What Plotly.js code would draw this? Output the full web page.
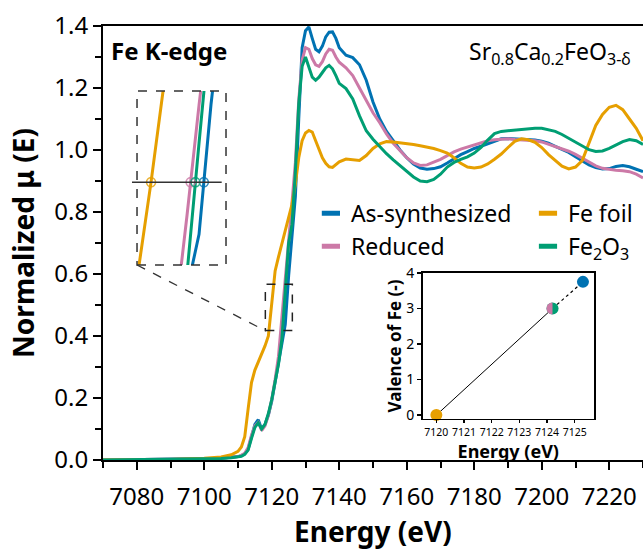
<!DOCTYPE html>
<html>
<head>
<meta charset="utf-8">
<script src="https://cdn.plot.ly/plotly-3.0.1.min.js"></script>
<style>
  html, body { margin: 0; padding: 0; overflow: hidden; background: #fff; }
  #chart { width: 643px; height: 550px; }
</style>
</head>
<body>
<div id="chart"></div>
<script>
// ---------------- data ----------------
const energy = [7070, 7080, 7090, 7100, 7105, 7108, 7110,
  7111, 7112, 7113, 7114, 7115, 7116, 7117, 7118, 7119, 7120, 7121, 7122, 7123, 7124, 7125, 7126, 7127, 7128, 7129, 7130,
  7131, 7132, 7133, 7134, 7135, 7136, 7137, 7138, 7139, 7140,
  7142, 7144, 7146, 7148, 7150, 7152, 7154, 7156, 7158, 7160, 7162, 7164, 7166, 7168, 7170, 7172, 7174, 7176, 7178, 7180,
  7182, 7184, 7186, 7188, 7190, 7192, 7194, 7196, 7198, 7200, 7202, 7204, 7206, 7208, 7210, 7212, 7214, 7216, 7218, 7220,
  7222, 7224, 7226, 7228, 7230];

const asSynthesized = [0.000, 0.001, 0.002, 0.004, 0.006, 0.008, 0.011,
  0.014, 0.020, 0.035, 0.075, 0.115, 0.130, 0.100, 0.115, 0.145, 0.190, 0.250, 0.310, 0.370, 0.437, 0.594, 0.720, 0.850, 1.100, 1.330, 1.385,
  1.397, 1.360, 1.325, 1.317, 1.335, 1.365, 1.380, 1.381, 1.360, 1.330,
  1.306, 1.298, 1.275, 1.225, 1.155, 1.100, 1.060, 1.030, 1.000, 0.975, 0.955, 0.942, 0.938, 0.940, 0.946, 0.958, 0.972, 0.985, 0.995, 1.005,
  1.012, 1.020, 1.030, 1.036, 1.037, 1.036, 1.036, 1.035, 1.032, 1.028, 1.022, 1.012, 1.002, 0.992, 0.978, 0.964, 0.952, 0.943, 0.939, 0.940,
  0.947, 0.950, 0.946, 0.938, 0.930];

const reduced = [0.000, 0.001, 0.002, 0.004, 0.006, 0.008, 0.011,
  0.015, 0.022, 0.040, 0.080, 0.110, 0.122, 0.095, 0.110, 0.145, 0.195, 0.260, 0.335, 0.460, 0.593, 0.715, 0.830, 0.960, 1.160, 1.290, 1.330,
  1.325, 1.295, 1.275, 1.270, 1.285, 1.310, 1.325, 1.322, 1.300, 1.283,
  1.265, 1.240, 1.200, 1.160, 1.120, 1.088, 1.052, 1.022, 0.997, 0.975, 0.958, 0.950, 0.952, 0.960, 0.970, 0.982, 0.994, 1.003, 1.010, 1.017,
  1.025, 1.030, 1.033, 1.035, 1.036, 1.034, 1.033, 1.032, 1.030, 1.026, 1.019, 1.012, 1.004, 0.996, 0.986, 0.973, 0.960, 0.949, 0.941, 0.937,
  0.935, 0.933, 0.930, 0.922, 0.910];

const feFoil = [0.000, 0.001, 0.002, 0.006, 0.010, 0.017, 0.028,
  0.042, 0.075, 0.165, 0.250, 0.290, 0.315, 0.340, 0.368, 0.400, 0.500, 0.610, 0.655, 0.700, 0.745, 0.785, 0.825, 0.890, 0.975, 1.030, 1.055,
  1.063, 1.058, 1.030, 1.000, 0.975, 0.957, 0.946, 0.944, 0.952, 0.962,
  0.971, 0.968, 0.966, 0.982, 1.005, 1.020, 1.027, 1.026, 1.024, 1.022, 1.018, 1.014, 1.010, 1.005, 0.998, 0.990, 0.975, 0.957, 0.945, 0.942,
  0.945, 0.955, 0.970, 0.987, 1.008, 1.028, 1.036, 1.033, 1.025, 1.008, 0.985, 0.965, 0.948, 0.939, 0.945, 0.966, 1.020, 1.079, 1.115, 1.138,
  1.144, 1.130, 1.100, 1.070, 1.030];

const fe2o3 = [0.000, 0.001, 0.002, 0.003, 0.005, 0.007, 0.009,
  0.012, 0.018, 0.032, 0.070, 0.105, 0.120, 0.100, 0.115, 0.150, 0.195, 0.250, 0.310, 0.390, 0.547, 0.700, 0.760, 0.930, 1.150, 1.270, 1.300,
  1.270, 1.235, 1.225, 1.235, 1.250, 1.265, 1.273, 1.262, 1.240, 1.215,
  1.198, 1.165, 1.110, 1.062, 1.035, 1.010, 0.988, 0.968, 0.950, 0.932, 0.913, 0.900, 0.898, 0.905, 0.922, 0.945, 0.960, 0.970, 0.978, 0.990,
  1.008, 1.032, 1.053, 1.060, 1.062, 1.064, 1.067, 1.069, 1.070, 1.070, 1.066, 1.060, 1.050, 1.038, 1.025, 1.012, 1.001, 0.995, 0.997, 1.005,
  1.015, 1.027, 1.034, 1.030, 1.018];

// half-edge crossing energies shown in the magnified panel
const halfLevel = 0.5;
const halfEdgeNames = ['As-synthesized', 'Reduced', 'Fe foil', 'Fe2O3'];
const halfEdgeEnergy = [7124.4, 7123.3, 7120.0, 7123.7];

// valence vs edge energy inset
const valNames = ['Fe foil', 'Fe2O3', 'Reduced', 'As-synthesized'];
const valEnergy = [7120.0, 7124.2, 7124.2, 7125.3];
const valence = [0, 3, 3, 3.75];

// tick labels
const mainXTicks = [7080, 7100, 7120, 7140, 7160, 7180, 7200, 7220];
const mainYTicks = [0.0, 0.2, 0.4, 0.6, 0.8, 1.0, 1.2, 1.4];
const valXTicks = [7120, 7121, 7122, 7123, 7124, 7125];
const valYTicks = [0, 1, 2, 3, 4];

// ---------------- styling ----------------
const C = { blue: '#0072B2', pink: '#CC79A7', orange: '#E69F00', green: '#009E73' };
const FONT = 'Noto Sans, Open Sans, sans-serif';

const seriesList = [
  { name: 'As-synthesized', y: asSynthesized, color: C.blue, legend: 'legend' },
  { name: 'Reduced', y: reduced, color: C.pink, legend: 'legend' },
  { name: 'Fe foil', y: feFoil, color: C.orange, legend: 'legend2' },
  { name: 'Fe<sub>2</sub>O<sub>3</sub>', y: fe2o3, color: C.green, legend: 'legend2' }
];

const traces = [];
// main spectra
seriesList.forEach(s => traces.push({
  type: 'scatter', mode: 'lines', x: energy, y: s.y, xaxis: 'x', yaxis: 'y',
  line: { color: s.color, width: 3 }, showlegend: false, hoverinfo: 'skip'
}));
// magnified panel
seriesList.forEach(s => traces.push({
  type: 'scatter', mode: 'lines', x: energy, y: s.y, xaxis: 'x2', yaxis: 'y2',
  line: { color: s.color, width: 3 }, showlegend: false, hoverinfo: 'skip'
}));
const halfColors = [C.blue, C.pink, C.orange, C.green];
traces.push({
  type: 'scatter', mode: 'markers', x: halfEdgeEnergy, y: halfEdgeEnergy.map(() => halfLevel),
  xaxis: 'x2', yaxis: 'y2', showlegend: false, hoverinfo: 'skip', opacity: 0.8,
  marker: { symbol: 'circle-open', size: 9, line: { width: 1.6, color: halfColors }, color: halfColors }
});
// legend entries (short thick line samples)
seriesList.forEach(s => traces.push({
  type: 'scatter', mode: 'markers', x: [null], y: [null], xaxis: 'x', yaxis: 'y',
  name: s.name, legend: s.legend, showlegend: true,
  marker: { symbol: 'line-ew', size: 13, color: s.color, line: { width: 5, color: s.color } }
}));
// valence inset
traces.push({
  type: 'scatter', mode: 'lines', x: [valEnergy[0], valEnergy[1]], y: [valence[0], valence[1]],
  xaxis: 'x3', yaxis: 'y3', line: { color: '#000', width: 1 }, showlegend: false, hoverinfo: 'skip'
});
traces.push({
  type: 'scatter', mode: 'lines', x: [valEnergy[1], valEnergy[3]], y: [valence[1], valence[3]],
  xaxis: 'x3', yaxis: 'y3', line: { color: '#000', width: 1.2, dash: 'dot' }, showlegend: false, hoverinfo: 'skip'
});
traces.push({
  type: 'scatter', mode: 'markers', x: [valEnergy[0], valEnergy[1], valEnergy[3]], y: [valence[0], valence[1], valence[3]],
  xaxis: 'x3', yaxis: 'y3', cliponaxis: false, showlegend: false, hoverinfo: 'skip',
  marker: { size: 12, color: [C.orange, C.green, C.blue], line: { width: 0 } }
});

// ---------------- geometry ----------------
const zoomXDomain = [0.063, 0.2278], zoomYDomain = [0.4493, 0.8502];
const zoomXRange = [7118.83, 7126.25], zoomYRange = [0.40, 0.61];
const halfLineY = zoomYDomain[0] + (halfLevel - zoomYRange[0]) / (zoomYRange[1] - zoomYRange[0]) * (zoomYDomain[1] - zoomYDomain[0]);

const r = 6;
const halfPts = [];
for (let i = 1; i <= 12; i++) {
  const ang = -Math.PI / 2 - i * Math.PI / 12;
  halfPts.push((r * Math.cos(ang)).toFixed(2) + ',' + (r * Math.sin(ang)).toFixed(2));
}
const halfPath = 'M0,' + (-r) + ' L' + halfPts.join(' L') + ' Z';

const axisCommon = {
  showline: true, linecolor: '#000', linewidth: 2, ticks: 'outside', tickcolor: '#000',
  tickwidth: 2, zeroline: false, showgrid: false
};

const layout = {
  width: 643, height: 550,
  margin: { l: 103, r: 0, t: 26, b: 90 },
  paper_bgcolor: '#fff', plot_bgcolor: 'rgba(0,0,0,0)',
  font: { family: FONT, color: '#000' },
  xaxis: Object.assign({}, axisCommon, {
    domain: [0, 1], range: [7070, 7230], tickvals: mainXTicks, ticklen: 8, mirror: true,
    tickfont: { size: 24 }, ticklabelstandoff: 6,
    minor: { dtick: 10, tick0: 7070, ticks: 'outside', ticklen: 6, tickwidth: 2, tickcolor: '#000' }
  }),
  yaxis: Object.assign({}, axisCommon, {
    domain: [0, 1], range: [0, 1.4], tickvals: mainYTicks, tickformat: '.1f', ticklen: 8, mirror: false,
    tickfont: { size: 24 },
    minor: { dtick: 0.1, tick0: 0, ticks: 'outside', ticklen: 6, tickwidth: 2, tickcolor: '#000' },
    title: { text: 'Normalized μ (E)', font: { size: 28, weight: 'bold' }, standoff: 12 }
  }),
  xaxis2: { domain: zoomXDomain, range: zoomXRange, visible: false, anchor: 'y2', fixedrange: true },
  yaxis2: { domain: zoomYDomain, range: zoomYRange, visible: false, anchor: 'x2', fixedrange: true },
  xaxis3: Object.assign({}, axisCommon, {
    domain: [0.5917, 0.9093], range: [7119.5, 7125.7], anchor: 'y3', mirror: true, linewidth: 1.5,
    tickwidth: 1.2, ticklen: 3, tickvals: valXTicks, tickfont: { size: 10.5 },
    title: { text: 'Energy (eV)', font: { size: 18, weight: 'bold' }, standoff: 0 }
  }),
  yaxis3: Object.assign({}, axisCommon, {
    domain: [0.0945, 0.4309], range: [-0.11, 4.0], anchor: 'x3', mirror: true, linewidth: 1.5,
    tickwidth: 1.2, ticklen: 4, tickvals: valYTicks, tickfont: { size: 14 },
    title: { text: 'Valence of Fe (-)', font: { size: 17, weight: 'bold' }, standoff: 0 }
  }),
  legend: {
    x: 0.385, y: 0.618, xanchor: 'left', yanchor: 'top', bgcolor: 'rgba(0,0,0,0)',
    font: { size: 23, family: FONT }, tracegroupgap: 0, itemclick: false
  },
  legend2: {
    x: 0.787, y: 0.618, xanchor: 'left', yanchor: 'top', bgcolor: 'rgba(0,0,0,0)',
    font: { size: 23, family: FONT }, tracegroupgap: 0, itemclick: false
  },
  annotations: [
    { xref: 'paper', yref: 'paper', x: 0.5, y: -0.1636, xanchor: 'center', yanchor: 'middle',
      text: 'Energy (eV)', showarrow: false, font: { size: 28, weight: 'bold' }, borderpad: 0 },
    { xref: 'paper', yref: 'paper', x: 0.0111, y: 0.9447, xanchor: 'left', yanchor: 'middle',
      text: 'Fe K-edge', showarrow: false, font: { size: 24, weight: 'bold' } },
    { xref: 'paper', yref: 'paper', x: 0.9815, y: 0.938, xanchor: 'right', yanchor: 'middle',
      text: 'Sr<sub>0.8</sub>Ca<sub>0.2</sub>FeO<sub>3-δ</sub>', showarrow: false, font: { size: 23 } }
  ],
  shapes: [
    { type: 'rect', xref: 'x2 domain', yref: 'y2 domain', x0: 0, x1: 1, y0: 0, y1: 1,
      line: { color: '#333', width: 1.5, dash: 'dash' }, fillcolor: 'rgba(0,0,0,0)' },
    { type: 'rect', xref: 'x', yref: 'y', x0: 7118.1, x1: 7126.1, y0: 0.418, y1: 0.567,
      line: { color: '#222', width: 1.5, dash: 'dash' }, fillcolor: 'rgba(0,0,0,0)' },
    { type: 'line', xref: 'paper', yref: 'paper', x0: zoomXDomain[0], y0: zoomYDomain[0], x1: 0.3019, y1: 0.2972,
      line: { color: '#333', width: 1.3, dash: 'dash' } },
    { type: 'line', xref: 'paper', yref: 'paper', x0: 0.0537, x1: 0.2198, y0: halfLineY, y1: halfLineY,
      line: { color: '#333', width: 1.5 } },
    { type: 'path', xref: 'x3', yref: 'y3', xsizemode: 'pixel', ysizemode: 'pixel',
      xanchor: valEnergy[2], yanchor: valence[2], path: halfPath,
      fillcolor: C.pink, line: { width: 0 }, layer: 'above' }
  ]
};

Plotly.newPlot('chart', traces, layout, { staticPlot: true, displayModeBar: false });
</script>
</body>
</html>
